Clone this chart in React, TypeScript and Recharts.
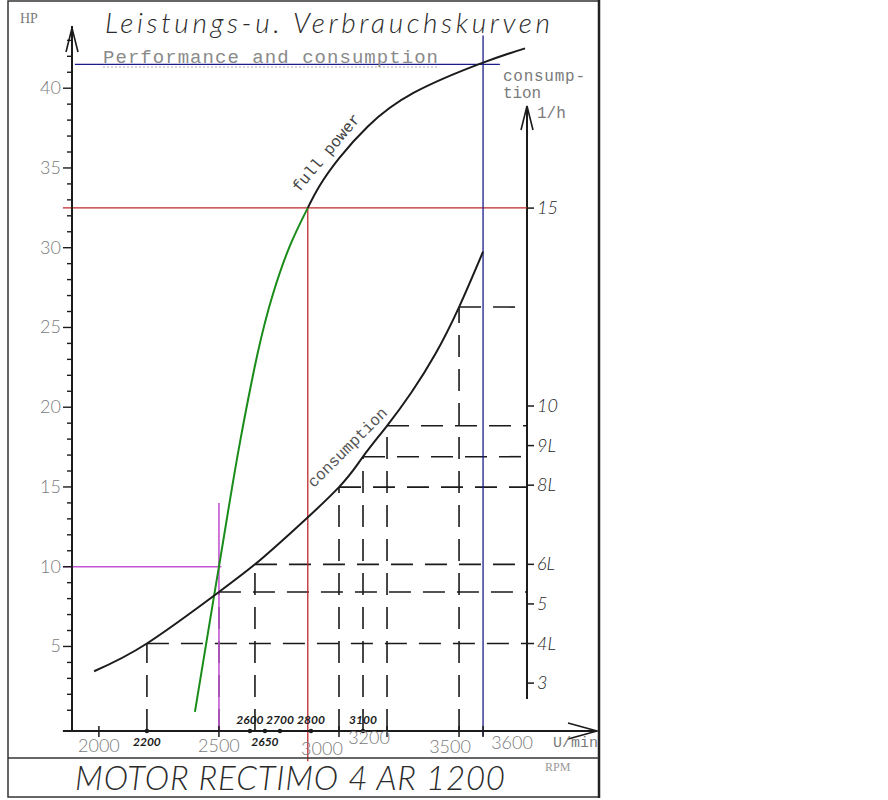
import React from "react";
import { ComposedChart, Line, XAxis, YAxis, ReferenceLine } from "recharts";

// full power curve (HP over RPM): black upper part, green lower part
const powerRpm = [2870, 2920, 3000, 3120, 3310, 3600, 3775];
const powerHp = [32.5, 33.9, 35.6, 37.6, 39.7, 41.6, 42.5];
const greenRpm = [2400, 2480, 2500, 2545, 2590, 2660, 2725, 2795, 2870];
const greenHp = [0.9, 8.2, 10, 14.1, 18.0, 23.3, 27.1, 30.1, 32.5];

// consumption curve (l/h over RPM)
const consRpm = [1980, 2200, 2500, 2650, 2800, 3000, 3100, 3200, 3300, 3400, 3500, 3600];
const consLph = [3.3, 4.0, 5.3, 6.0, 6.8, 7.95, 8.72, 9.5, 10.33, 11.3, 12.5, 13.9];

// dashed read-off lines from the consumption curve
const guideRpm = [2200, 2500, 2650, 3000, 3100, 3200, 3500];
const guideLph = [4, 5.3, 6, 7.95, 8.72, 9.5, 12.5];

// tick labels
const rpmLabels = [2000, 2500, 3000, 3200, 3500, 3600];
const rpmNotes = [2200, 2600, 2650, 2700, 2800, 3100];
const hpTicks = Array.from({ length: 43 }, (_, i) => i + 1);
const lphTicks = [3, 4, 5, 6, 8, 9, 10, 15];
const lphTickLabels = ["3", "4L", "5", "6L", "8L", "9L", "10", "15"];

const RPM_MIN = 1888;
const RPM_MAX = 3783;
const HP_MIN = -0.3;
const HP_MAX = 43.9;
const LPH_MIN = 1.79;
const LPH_MAX = 19.6;

const INK = "#1b1b1b";
const GREY = "#7a7a7a";
const RED = "#c0282d";
const BLUE = "#1c1c8a";
const MAGENTA = "#c455d4";
const GREEN = "#1a8c1a";
const HAND = "Lato, 'DejaVu Sans', sans-serif";
const TYPE = "'Liberation Mono', monospace";

const powerData = powerRpm.map((rpm, i) => ({ rpm, hp: powerHp[i] }));
const greenData = greenRpm.map((rpm, i) => ({ rpm, hp: greenHp[i] }));
const consData = consRpm.map((rpm, i) => ({ rpm, lph: consLph[i] }));

// hand placement of the printed / handwritten rpm labels
const NUDGE: Record<number, [number, number]> = {
  3000: [-17, 3],
  3200: [-18, -8],
  3500: [-9, 1],
  3600: [29, -3],
  2600: [7, 0],
  2650: [10, 0],
  2700: [13, 0],
  2800: [20, 0],
};

function RpmTick({ x, y, payload }: any) {
  const v = payload.value;
  const [dx, dy] = NUDGE[v] ?? [0, 0];
  if (rpmLabels.includes(v)) {
    return (
      <g>
        <line x1={x} x2={x} y1={y - 5} y2={y + 6} stroke={INK} strokeWidth={1.5} />
        <text
          x={x + dx}
          y={y + 21 + dy}
          textAnchor="middle"
          fontSize={18}
          fill={GREY}
          fontFamily={HAND}
          fontWeight={300}
        >
          {v}
        </text>
      </g>
    );
  }
  const below = v === 2200 || v === 2650;
  return (
    <g>
      <circle cx={x + dx} cy={y} r={2.2} fill={INK} />
      <text
        x={x + dx}
        y={below ? y + 15 : y - 7}
        textAnchor="middle"
        fontSize={12}
        fontStyle="italic"
        fontWeight={700}
        fill={INK}
        fontFamily={HAND}
      >
        {v}
      </text>
    </g>
  );
}

function HpTick({ x, y, payload }: any) {
  const v = payload.value;
  const major = v % 5 === 0;
  return (
    <g>
      <line x1={x - (major ? 9 : 5)} x2={x} y1={y} y2={y} stroke={INK} strokeWidth={1.4} />
      {major && (
        <text
          x={x - 11}
          y={y + 6}
          textAnchor="end"
          fontSize={18}
          fill={GREY}
          fontFamily={HAND}
          fontWeight={300}
        >
          {v}
        </text>
      )}
    </g>
  );
}

function LphTick({ x, y, payload }: any) {
  const label = lphTickLabels[lphTicks.indexOf(payload.value)];
  return (
    <g>
      <line x1={x} x2={x + 7} y1={y} y2={y} stroke={INK} strokeWidth={1.5} />
      <text
        x={x + 10}
        y={y + 6}
        fontSize={18}
        fontStyle="italic"
        fill={INK}
        fontFamily={HAND}
        fontWeight={300}
      >
        {label}
      </text>
    </g>
  );
}

const dashed = { stroke: INK, strokeWidth: 1.6, strokeDasharray: "22 12" };

export default function App() {
  return (
    <div style={{ position: "absolute", left: 0, top: 0, width: 888, height: 800, background: "#fff" }}>
      <ComposedChart
        width={600}
        height={800}
        margin={{ top: 26, right: 13, bottom: 29, left: 22 }}
      >
        <XAxis
          dataKey="rpm"
          type="number"
          domain={[RPM_MIN, RPM_MAX]}
          allowDataOverflow
          ticks={[...rpmLabels, ...rpmNotes].sort((a, b) => a - b)}
          interval={0}
          height={40}
          tickSize={0}
          tickMargin={0}
          tick={<RpmTick />}
          axisLine={{ stroke: INK, strokeWidth: 2 }}
        />
        <YAxis
          yAxisId="hp"
          type="number"
          domain={[HP_MIN, HP_MAX]}
          allowDataOverflow
          ticks={hpTicks}
          interval={0}
          width={50}
          tickSize={0}
          tickMargin={0}
          tick={<HpTick />}
          axisLine={{ stroke: INK, strokeWidth: 2 }}
        />
        <YAxis
          yAxisId="lph"
          orientation="right"
          type="number"
          domain={[LPH_MIN, LPH_MAX]}
          allowDataOverflow
          ticks={lphTicks}
          interval={0}
          width={60}
          tickSize={0}
          tickMargin={0}
          tick={<LphTick />}
          axisLine={false}
        />

        {/* right consumption axis line and x axis extension */}
        <ReferenceLine
          yAxisId="lph"
          segment={[{ x: RPM_MAX, y: 2.6 }, { x: RPM_MAX, y: 17.5 }]}
          stroke={INK}
          strokeWidth={2}
          ifOverflow="visible"
        />
        <ReferenceLine
          yAxisId="hp"
          segment={[{ x: 1850, y: HP_MIN }, { x: 4066, y: HP_MIN }]}
          stroke={INK}
          strokeWidth={2}
          ifOverflow="visible"
        />

        {/* dashed read-off lines */}
        {guideRpm.map((r, i) => (
          <ReferenceLine
            key={"v" + r}
            yAxisId="lph"
            segment={[{ x: r, y: LPH_MIN }, { x: r, y: guideLph[i] }]}
            {...dashed}
            ifOverflow="visible"
          />
        ))}
        {guideRpm.map((r, i) => (
          <ReferenceLine
            key={"h" + r}
            yAxisId="lph"
            segment={[{ x: r, y: guideLph[i] }, { x: RPM_MAX, y: guideLph[i] }]}
            {...dashed}
            ifOverflow="visible"
          />
        ))}

        {/* coloured construction lines */}
        <ReferenceLine
          yAxisId="hp"
          segment={[{ x: 1850, y: 32.5 }, { x: RPM_MAX, y: 32.5 }]}
          stroke={RED}
          strokeWidth={1.3}
          ifOverflow="visible"
        />
        <ReferenceLine
          yAxisId="hp"
          segment={[{ x: 2870, y: -2.2 }, { x: 2870, y: 32.5 }]}
          stroke={RED}
          strokeWidth={1.3}
          ifOverflow="visible"
        />
        <ReferenceLine
          yAxisId="hp"
          segment={[{ x: 1850, y: 10 }, { x: 2510, y: 10 }]}
          stroke={MAGENTA}
          strokeWidth={1.6}
          ifOverflow="visible"
        />
        <ReferenceLine
          yAxisId="hp"
          segment={[{ x: 2500, y: HP_MIN }, { x: 2500, y: 14 }]}
          stroke={MAGENTA}
          strokeWidth={1.6}
          ifOverflow="visible"
        />
        <ReferenceLine
          yAxisId="hp"
          segment={[{ x: 1900, y: 41.5 }, { x: 3670, y: 41.5 }]}
          stroke={BLUE}
          strokeWidth={1.3}
          ifOverflow="visible"
        />
        <ReferenceLine
          yAxisId="hp"
          segment={[{ x: 3600, y: -0.6 }, { x: 3600, y: 43.3 }]}
          stroke={BLUE}
          strokeWidth={1.3}
          ifOverflow="visible"
        />

        <Line
          yAxisId="hp"
          data={greenData}
          dataKey="hp"
          type="natural"
          stroke={GREEN}
          strokeWidth={2}
          dot={false}
          isAnimationActive={false}
        />
        <Line
          yAxisId="hp"
          data={powerData}
          dataKey="hp"
          type="natural"
          stroke={INK}
          strokeWidth={2}
          dot={false}
          isAnimationActive={false}
        />
        <Line
          yAxisId="lph"
          data={consData}
          dataKey="lph"
          type="natural"
          stroke={INK}
          strokeWidth={2}
          dot={false}
          isAnimationActive={false}
        />
      </ComposedChart>

      <svg
        width={888}
        height={800}
        style={{ position: "absolute", left: 0, top: 0, pointerEvents: "none" }}
      >
        {/* scan frame */}
        <rect x={8} y={1} width={591} height={796} fill="none" stroke="#333" strokeWidth={1.5} />
        <line x1={599} x2={599} y1={0} y2={798} stroke="#222" strokeWidth={2.5} />
        <line x1={8} x2={599} y1={758} y2={758} stroke="#333" strokeWidth={1.5} />

        {/* axis arrows */}
        <path d="M66 52 L72 28 L78 52" fill="none" stroke={INK} strokeWidth={1.6} />
        <path d="M521 130 L527 106 L533 130" fill="none" stroke={INK} strokeWidth={1.6} />
        <path d="M568 723 L597 731 L568 739" fill="none" stroke={INK} strokeWidth={1.6} />

        <text x={20} y={23} fontSize={14} fill={GREY} fontFamily="Liberation Serif">HP</text>
        <text
          x={105}
          y={33}
          fontSize={28}
          fontStyle="italic"
          fontWeight={300}
          fill="#2b2b2b"
          fontFamily={HAND}
          textLength={445}
          lengthAdjust="spacing"
        >
          Leistungs-u. Verbrauchskurven
        </text>
        <text
          x={103}
          y={63}
          fontSize={19}
          fill="#8a8a8a"
          fontFamily={TYPE}
          textLength={335}
          lengthAdjust="spacing"
        >
          Performance and consumption
        </text>
        <line x1={103} x2={438} y1={67} y2={67} stroke="#aaa" strokeWidth={1} strokeDasharray="2 2" />
        <text x={503} y={81} fontSize={16} fill={GREY} fontFamily={TYPE} textLength={82}>
          consump-
        </text>
        <text x={503} y={98} fontSize={16} fill={GREY} fontFamily={TYPE} textLength={38}>
          tion
        </text>
        <text x={537} y={118} fontSize={16} fill={GREY} fontFamily={TYPE}>1/h</text>
        <text x={553} y={747} fontSize={15} fill={GREY} fontFamily={TYPE}>U/min</text>
        <text x={545} y={771} fontSize={12} fill="#999" fontFamily="Liberation Serif">RPM</text>

        <text
          x={330}
          y={156}
          fontSize={16}
          fill="#444"
          fontFamily={TYPE}
          textAnchor="middle"
          transform="rotate(-50 330 156)"
        >
          full power
        </text>
        <text
          x={351}
          y={451}
          fontSize={16}
          fill="#555"
          fontFamily={TYPE}
          textAnchor="middle"
          transform="rotate(-45 351 451)"
        >
          consumption
        </text>

        <text
          x={75}
          y={790}
          fontSize={33}
          fontStyle="italic"
          fontWeight={300}
          fill="#2b2b2b"
          fontFamily={HAND}
          textLength={430}
          lengthAdjust="spacing"
        >
          MOTOR RECTIMO 4 AR 1200
        </text>
      </svg>
    </div>
  );
}
